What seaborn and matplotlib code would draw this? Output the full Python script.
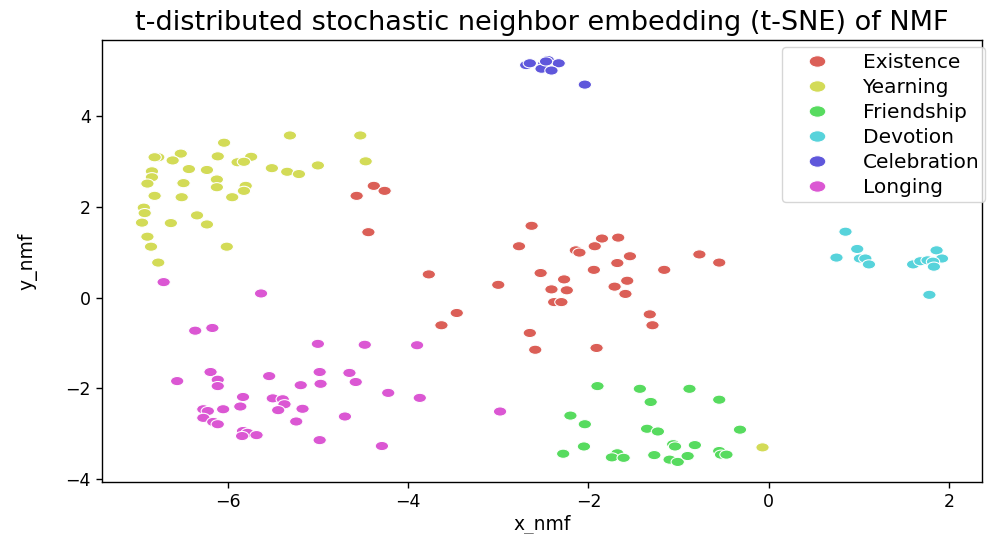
import numpy as np
import pandas as pd
import matplotlib
matplotlib.use("Agg")
import matplotlib.pyplot as plt
from matplotlib.path import Path
from matplotlib.transforms import Affine2D
import seaborn as sns

categories = ["Existence", "Yearning", "Friendship", "Devotion", "Celebration", "Longing"]

existence_x = [-4.38, -4.26, -4.57, -4.44, -2.63, -2.77, -1.85, -1.67, -1.93, -2.14, -2.10, -1.54,
               -1.68, -0.77, -0.55, -3.77, -2.53, -1.94, -1.16, -3.00, -2.27, -1.57, -2.41, -2.24,
               -1.71, -1.59, -2.38, -2.30, -3.46, -3.63, -1.32, -1.29, -2.65, -2.59, -1.91]
existence_y = [2.46, 2.35, 2.24, 1.44, 1.58, 1.13, 1.30, 1.32, 1.13, 1.04, 0.99, 0.91,
               0.76, 0.95, 0.77, 0.51, 0.54, 0.61, 0.61, 0.28, 0.40, 0.37, 0.18, 0.16,
               0.24, 0.08, -0.10, -0.10, -0.34, -0.61, -0.37, -0.61, -0.78, -1.15, -1.11]

yearning_x = [-5.31, -4.53, -6.04, -6.77, -6.81, -6.52, -6.61, -6.11, -5.74, -5.89, -5.82, -6.43,
              -6.23, -5.51, -5.34, -5.21, -5.00, -4.47, -6.84, -6.84, -6.89, -6.49, -6.12, -6.12,
              -5.80, -5.82, -6.81, -6.51, -5.95, -6.93, -6.92, -6.95, -6.63, -6.34, -6.23, -6.89,
              -6.85, -6.01, -6.77, -0.07]
yearning_y = [3.57, 3.57, 3.41, 3.09, 3.09, 3.17, 3.02, 3.11, 3.10, 2.98, 2.99, 2.83,
              2.81, 2.85, 2.77, 2.72, 2.91, 3.00, 2.78, 2.65, 2.51, 2.52, 2.60, 2.43,
              2.46, 2.35, 2.24, 2.21, 2.21, 1.98, 1.86, 1.65, 1.64, 1.81, 1.61, 1.34,
              1.12, 1.12, 0.77, -3.30]

friendship_x = [-1.90, -1.43, -0.88, -1.31, -0.55, -2.20, -2.04, -1.35, -1.23, -1.06, -1.04, -0.82,
                -2.05, -2.28, -1.68, -1.74, -1.61, -1.27, -1.10, -1.01, -0.90, -0.55, -0.32, -0.53,
                -0.47]
friendship_y = [-1.95, -2.01, -2.01, -2.30, -2.25, -2.60, -2.79, -2.89, -2.95, -3.23, -3.28, -3.25,
                -3.28, -3.44, -3.43, -3.52, -3.53, -3.47, -3.57, -3.62, -3.49, -3.38, -2.91, -3.46,
                -3.46]

devotion_x = [0.85, 0.98, 0.75, 1.01, 1.07, 1.11, 1.60, 1.68, 1.76, 1.86, 1.92, 1.82, 1.83, 1.78]
devotion_y = [1.45, 1.07, 0.88, 0.86, 0.86, 0.73, 0.73, 0.80, 0.82, 1.04, 0.86, 0.79, 0.68, 0.06]

celebration_x = [-2.69, -2.65, -2.49, -2.45, -2.33, -2.52, -2.41, -2.47, -2.04]
celebration_y = [5.12, 5.16, 5.15, 5.23, 5.16, 5.04, 5.00, 5.20, 4.69]

longing_x = [-6.71, -5.63, -6.36, -6.17, -5.00, -4.48, -3.90, -6.56, -6.19, -6.11, -6.11, -5.54,
             -5.19, -4.98, -4.97, -4.65, -4.58, -4.22, -3.87, -5.83, -5.86, -6.27, -6.22, -6.05,
             -6.27, -6.16, -6.11, -5.50, -5.39, -5.37, -5.44, -5.17, -5.24, -4.70, -5.83, -5.78,
             -5.68, -5.84, -4.98, -4.29, -2.98]
longing_y = [0.34, 0.09, -0.73, -0.67, -1.02, -1.04, -1.05, -1.84, -1.64, -1.81, -1.95, -1.73,
             -1.93, -1.64, -1.90, -1.66, -1.86, -2.10, -2.21, -2.19, -2.40, -2.46, -2.50, -2.46,
             -2.65, -2.74, -2.79, -2.22, -2.24, -2.35, -2.48, -2.45, -2.73, -2.62, -2.94, -2.98,
             -3.03, -3.05, -3.14, -3.27, -2.51]

series = {
    "Existence": (existence_x, existence_y),
    "Yearning": (yearning_x, yearning_y),
    "Friendship": (friendship_x, friendship_y),
    "Devotion": (devotion_x, devotion_y),
    "Celebration": (celebration_x, celebration_y),
    "Longing": (longing_x, longing_y),
}

rows = []
for cat in categories:
    xs, ys = series[cat]
    for xv, yv in zip(xs, ys):
        rows.append({"x_nmf": xv, "y_nmf": yv, "label": cat})
df = pd.DataFrame(rows)

plt.rcParams["font.family"] = ["DejaVu Sans"]
plt.rcParams["axes.linewidth"] = 1.0

# slightly wide elliptical marker (reference is horizontally stretched)
ellipse = Affine2D().scale(1.0, 1 / 1.45).transform_path(Path.unit_circle())

fig = plt.figure(figsize=(10.04, 5.34), dpi=100)
ax = fig.add_axes([102 / 1004, 52 / 534, 880 / 1004, 442 / 534])

sns.scatterplot(data=df, x="x_nmf", y="y_nmf", hue="label", hue_order=categories,
                palette=sns.color_palette("hls", 6), s=92, marker=ellipse, ax=ax)

ax.set_xticks([-6, -4, -2, 0, 2])
ax.set_yticks([-4, -2, 0, 2, 4])
ax.tick_params(labelsize=12.5, length=4.5, width=1.0)
ax.set_xlabel("x_nmf", fontsize=13.5, labelpad=3)
ax.set_ylabel("y_nmf", fontsize=13.5, labelpad=20)
ax.set_title("t-distributed stochastic neighbor embedding (t-SNE) of NMF", fontsize=19.5, pad=7)

old = ax.get_legend()
handles = old.legend_handles
labels = [t.get_text() for t in old.get_texts()]
old.remove()
ax.legend(handles, labels, loc="upper left", bbox_to_anchor=(782 / 1004, 1 - 47 / 534),
          bbox_transform=fig.transFigure, fontsize=14.5, markerscale=1.25,
          labelspacing=0.30, borderpad=0.28, handlelength=2.95, handletextpad=0.77,
          borderaxespad=0.0)

fig.savefig("out.png", dpi=100)
